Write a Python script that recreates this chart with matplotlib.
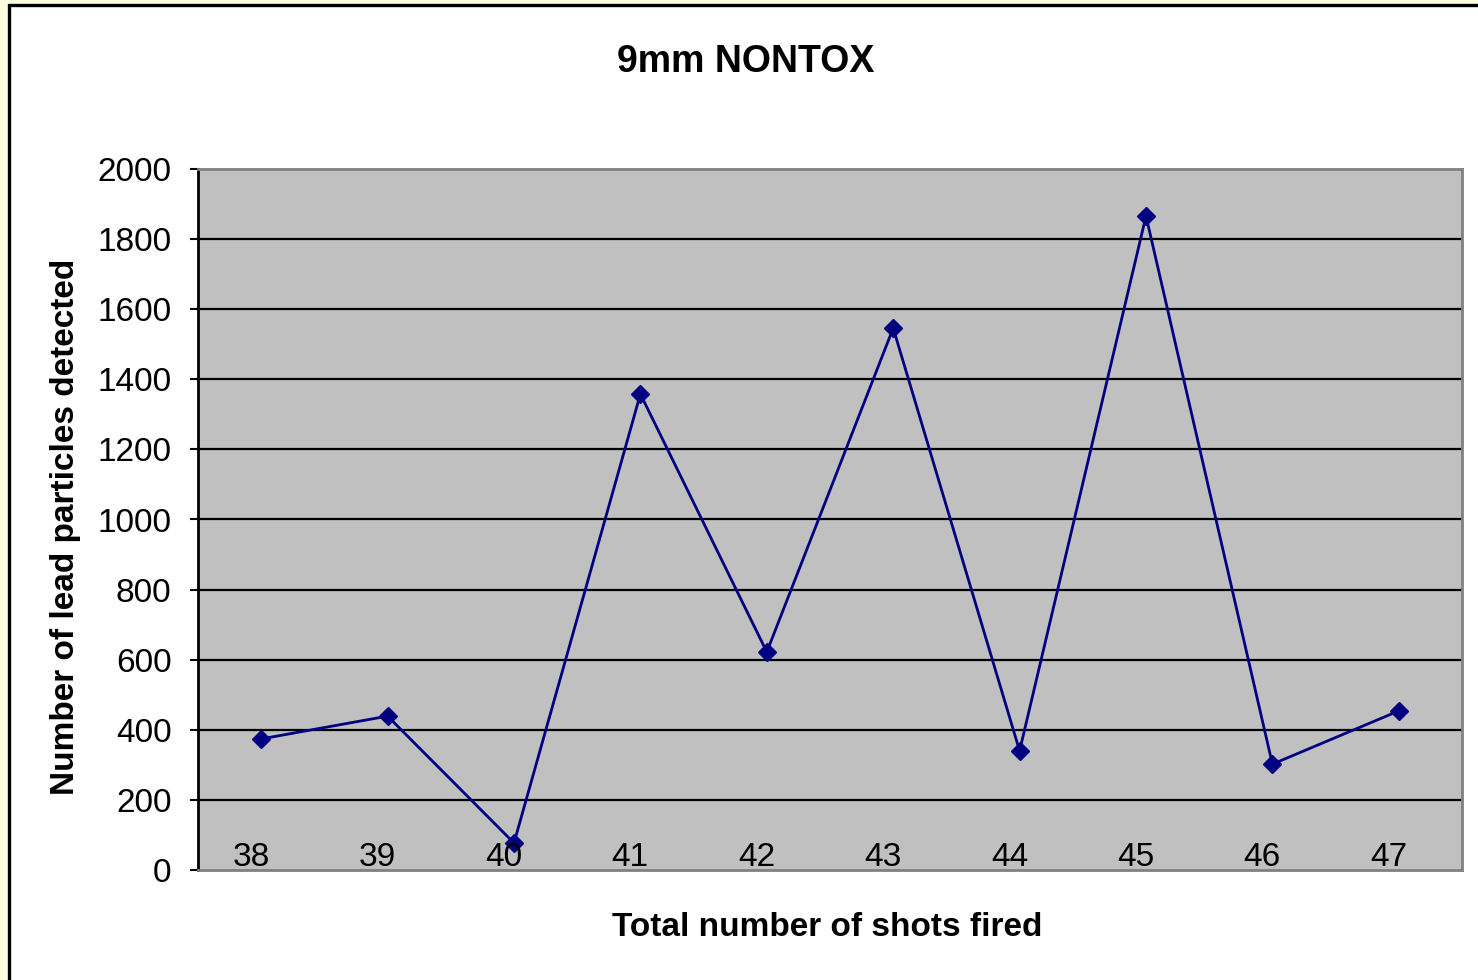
import matplotlib.pyplot as plt
from matplotlib.patches import Rectangle

# Shots fired (categories) and lead particles detected
shots = ['38', '39', '40', '41', '42', '43', '44', '45', '46', '47']
particles = [374, 439, 77, 1358, 622, 1546, 340, 1866, 302, 454]
y_ticks = [0, 200, 400, 600, 800, 1000, 1200, 1400, 1600, 1800, 2000]

plt.rcParams['font.family'] = ['Liberation Sans', 'DejaVu Sans']

fig = plt.figure(figsize=(14.78, 9.8), dpi=100, facecolor='#FFFFE0')

# White chart area with black frame (runs off the right/bottom edges)
fig.patches.append(Rectangle((9 / 1478, -0.02), 1.05, 1 - 5 / 980 + 0.02,
                             transform=fig.transFigure, facecolor='white',
                             edgecolor='black', linewidth=2.4, zorder=-5))

ax = fig.add_axes([198 / 1478, 1 - 870 / 980, 1264 / 1478, 701 / 980])
ax.set_facecolor('#C0C0C0')

x = list(range(len(shots)))
ax.plot(x, particles, color='#000080', linewidth=2, marker='D',
        markersize=9.5, markerfacecolor='#000080', markeredgecolor='#000080',
        zorder=3)

ax.set_xlim(-0.5, len(shots) - 0.5)
ax.set_ylim(0, 2000)
ax.set_yticks(y_ticks)
ax.set_yticklabels([str(v) for v in y_ticks], fontsize=24)
for v in y_ticks[1:-1]:
    ax.axhline(v, color='black', linewidth=1.6, zorder=1)

# Category labels sit inside the plot area, just above the axis
ax.set_xticks([])
for i, lab in enumerate(shots):
    ax.text(i - 0.08, -0.004, lab, transform=ax.get_xaxis_transform(),
            ha='center', va='bottom', fontsize=24, zorder=4)

for side in ['top', 'right', 'bottom']:
    ax.spines[side].set_color('#808080')
    ax.spines[side].set_linewidth(2)
ax.spines['left'].set_color('black')
ax.spines['left'].set_linewidth(2)
ax.tick_params(axis='y', direction='out', length=6, width=1.5, pad=13)

fig.text(746 / 1478, 1 - 62 / 980, '9mm NONTOX', ha='center', va='center',
         fontsize=27, fontweight='bold')
fig.text(66 / 1478, 1 - 527 / 980, 'Number of lead particles detected',
         ha='center', va='center', rotation=90, fontsize=24, fontweight='bold')
fig.text(827 / 1478, 1 - 927 / 980, 'Total number of shots fired',
         ha='center', va='center', fontsize=24, fontweight='bold')

fig.savefig('out.png', dpi=100, facecolor=fig.get_facecolor())
